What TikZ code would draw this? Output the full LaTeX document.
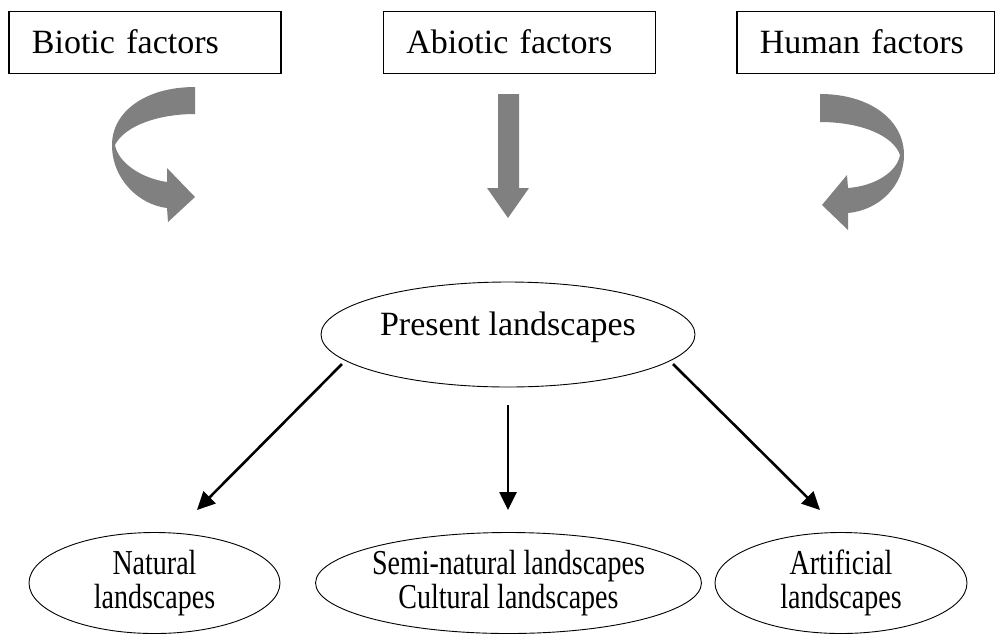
\documentclass[tikz,border=0pt]{standalone}
\usepackage{fontspec}
\setmainfont{Liberation Serif}
\newfontfamily\condfont[FakeStretch=0.8]{Liberation Serif}
\usetikzlibrary{shapes.geometric,arrows.meta}
\begin{document}
\begin{tikzpicture}[x=1pt,y=-1pt,
 factorbox/.style={draw, line width=1.8pt, inner xsep=23pt, inner ysep=0pt, minimum height=62pt, align=left, text height=23pt, text depth=0pt, font=\fontsize{34}{40}\selectfont},
 topoval/.style={draw, ellipse, line width=0.9pt, inner sep=0pt, font=\fontsize{34}{40}\selectfont},
 landoval/.style={draw, ellipse, line width=0.9pt, inner sep=0pt, minimum height=101pt, align=center, font=\condfont\fontsize{35}{34}\selectfont},
 blockarrow/.style={fill=gray},
 link/.style={line width=2.6pt, -{Triangle[length=18pt,width=17pt]}}]
\useasboundingbox (0,0) rectangle (995,633);

% factor boxes
\node[factorbox, text width=226pt, anchor=north west] (bio) at (8,10.5) {Biotic factors};
\node[factorbox, text width=226pt, anchor=north west] (abio) at (382.5,10.5) {Abiotic factors};
\node[factorbox, text width=212pt, anchor=north west] (hum) at (736,10.5) {Human factors};

% gray block arrows
\fill[blockarrow] (195,87) .. controls (145,87) and (112,112) .. (112,145)
  .. controls (112,180) and (140,205) .. (167,208) -- (168,222) -- (195,197) -- (167,168) -- (167,182)
  .. controls (140,178) and (118,162) .. (115,145)
  .. controls (125,125) and (160,114) .. (195,114) -- cycle;
\fill[blockarrow] (498,94) -- (519,94) -- (519,188) -- (529,188) -- (508,218) -- (487,188) -- (498,188) -- cycle;
\fill[blockarrow] (820,94) .. controls (870,94) and (904,120) .. (904,155)
  .. controls (904,185) and (880,210) .. (848,213) -- (848,230) -- (822,205) -- (847,175) -- (848,188)
  .. controls (875,186) and (897,172) .. (900,155)
  .. controls (893,135) and (860,122) .. (820,122) -- cycle;

% ellipses
\node[topoval, minimum width=374pt, minimum height=105pt, text height=23pt, text depth=22pt] (pres) at (508,334.5) {Present landscapes};
\node[landoval, minimum width=251pt] (nat) at (154.5,583) {Natural\\landscapes};
\node[landoval, minimum width=377pt] (semi) at (508.5,583) {Semi-natural landscapes\\Cultural landscapes};
\node[landoval, minimum width=252pt] (art) at (841,583) {Artificial\\landscapes};

% connectors
\coordinate (s1) at (342,364); \coordinate (t1) at (197,510);
\coordinate (s2) at (508,405); \coordinate (t2) at (508,510);
\coordinate (s3) at (673,364); \coordinate (t3) at (820,510);
\draw[link] (s1) -- (t1);
\draw[link] (s2) -- (t2);
\draw[link] (s3) -- (t3);
\end{tikzpicture}
\end{document}
